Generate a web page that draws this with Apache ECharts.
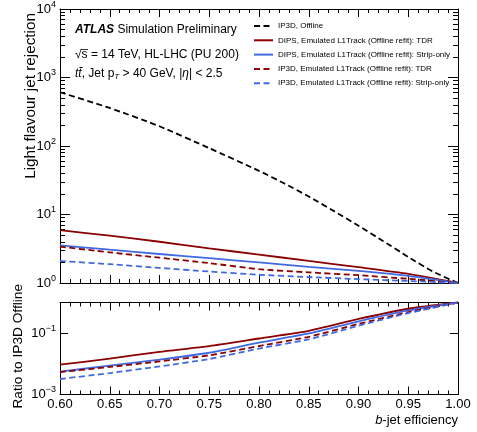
<!DOCTYPE html>
<html>
<head>
<meta charset="utf-8">
<script src="https://cdn.jsdelivr.net/npm/echarts@6/dist/echarts.min.js"></script>
<style>
html,body{margin:0;padding:0;background:#fff;}
#chart{width:477px;height:432px;}
</style>
</head>
<body>
<div id="chart"></div>
<script>
// ---- Data ----
var effOffline = [0.60, 0.65, 0.70, 0.75, 0.80, 0.825, 0.85, 0.875, 0.90, 0.925, 0.95, 0.975, 1.00];
var ip3dOffline = [609, 359, 194, 93, 43.4, 28.6, 18.3, 11.3, 6.85, 4.08, 2.4, 1.46, 1.0];

var eff = [0.60, 0.65, 0.70, 0.75, 0.80, 0.85, 0.90, 0.95, 1.00];
var dipsTdr   = [5.9, 4.9, 4.0, 3.2, 2.6, 2.1, 1.7, 1.36, 1.0];
var dipsStrip = [3.55, 3.06, 2.65, 2.3, 2.0, 1.72, 1.5, 1.27, 1.0];
var ip3dTdr   = [3.4, 2.8, 2.34, 1.95, 1.59, 1.43, 1.3, 1.15, 1.0];
var ip3dStrip = [2.1, 1.88, 1.66, 1.47, 1.32, 1.22, 1.14, 1.07, 1.0];

var ratioDipsTdr   = [0.0094, 0.0148, 0.0247, 0.038, 0.067, 0.119, 0.29, 0.625, 1.0];
var ratioDipsStrip = [0.0056, 0.0087, 0.0137, 0.023, 0.049, 0.098, 0.244, 0.55, 1.0];
var ratioIp3dTdr   = [0.0054, 0.0079, 0.012, 0.019, 0.038, 0.076, 0.2, 0.485, 1.0];
var ratioIp3dStrip = [0.0032, 0.005, 0.0082, 0.0144, 0.0316, 0.063, 0.175, 0.45, 1.0];

var names = [
  'IP3D, Offline',
  'DIPS, Emulated L1Track (Offline refit): TDR',
  'DIPS, Emulated L1Track (Offline refit): Strip-only',
  'IP3D, Emulated L1Track (Offline refit): TDR',
  'IP3D, Emulated L1Track (Offline refit): Strip-only'
];
var xTickLabels = ['0.60','0.65','0.70','0.75','0.80','0.85','0.90','0.95','1.00'];
var topMajorTicks = [1, 10, 100, 1000, 10000];
var ratioMajorTicks = [0.001, 0.1, 1];
var ratioLabelTicks = [0.001, 0.1];

// ---- styling ----
var FONT = 'Liberation Sans';
var RED = '#8b0000';
var BLUE = '#4169e1';

var topMinorTicks = [];
[1, 10, 100, 1000].forEach(function (d) {
  for (var k = 2; k <= 9; k++) topMinorTicks.push(d * k);
});

function pairs(xs, ys) { return xs.map(function (x, i) { return [x, ys[i]]; }); }

function expLabel(v) {
  var e = Math.round(Math.log10(v));
  var s = e < 0 ? '\u2212' + (-e) : '' + e;
  return '{b|10}{e|' + s + '}';
}
var labelRich = {
  b: { fontSize: 13, fontFamily: FONT, color: '#000' },
  e: { fontSize: 9, fontFamily: FONT, color: '#000', padding: [0, 0, 9, 0] }
};

var G0 = { left: 60, top: 7, width: 398, height: 276 };
var G1 = { left: 60, top: 302.5, width: 398, height: 92 };

function xAx(grid, pos, labels) {
  return {
    type: 'value', gridIndex: grid, position: pos, min: 0.6, max: 1.0, interval: 0.05,
    axisLine: { show: true, onZero: false, lineStyle: { color: '#000', width: 1 } },
    axisTick: { show: true, inside: true, length: 8, lineStyle: { color: '#000' } },
    minorTick: { show: true, splitNumber: 5, length: 4, lineStyle: { color: '#000' } },
    splitLine: { show: false }, minorSplitLine: { show: false },
    axisLabel: labels ? {
      show: true, margin: 3, fontSize: 13, fontFamily: FONT, color: '#000',
      formatter: function (v) { var i = Math.round((v - 0.6) / 0.05); return xTickLabels[i]; }
    } : { show: false }
  };
}

function yLog(grid, pos, min, max, ticks, len, labelVals, showLine) {
  return {
    type: 'log', gridIndex: grid, position: pos, min: min, max: max, logBase: 10,
    axisLine: { show: showLine, onZero: false, lineStyle: { color: '#000', width: 1 } },
    axisTick: { show: true, inside: true, length: len, customValues: ticks, lineStyle: { color: '#000' } },
    splitLine: { show: false },
    axisLabel: labelVals ? {
      show: true, margin: 4, customValues: labelVals, formatter: expLabel, rich: labelRich
    } : { show: false }
  };
}

function lineSeries(name, data, color, dashed, xi, yi, w) {
  return {
    name: name, type: 'line', xAxisIndex: xi, yAxisIndex: yi, data: data,
    symbol: 'none', smooth: 0.2, silent: true, animation: false,
    lineStyle: { color: color, width: w || 1.8, type: dashed ? [6, 3.5] : 'solid' },
    itemStyle: { color: color }
  };
}

var series = [
  lineSeries(names[0], pairs(effOffline, ip3dOffline), '#000', true, 0, 0, 1.8),
  lineSeries(names[1], pairs(eff, dipsTdr), RED, false, 0, 0),
  lineSeries(names[2], pairs(eff, dipsStrip), BLUE, false, 0, 0),
  lineSeries(names[3], pairs(eff, ip3dTdr), RED, true, 0, 0),
  lineSeries(names[4], pairs(eff, ip3dStrip), BLUE, true, 0, 0),
  lineSeries(names[1], pairs(eff, ratioDipsTdr), RED, false, 2, 4),
  lineSeries(names[2], pairs(eff, ratioDipsStrip), BLUE, false, 2, 4),
  lineSeries(names[3], pairs(eff, ratioIp3dTdr), RED, true, 2, 4),
  lineSeries(names[4], pairs(eff, ratioIp3dStrip), BLUE, true, 2, 4)
];

var option = {
  backgroundColor: '#fff',
  animation: false,
  grid: [
    { left: G0.left, top: G0.top, width: G0.width, height: G0.height },
    { left: G1.left, top: G1.top, width: G1.width, height: G1.height }
  ],
  xAxis: [xAx(0, 'bottom', false), xAx(0, 'top', false), xAx(1, 'bottom', true), xAx(1, 'top', false)],
  yAxis: [
    yLog(0, 'left', 1, 10000, topMajorTicks, 10, topMajorTicks, true),
    yLog(0, 'left', 1, 10000, topMinorTicks, 5, null, false),
    yLog(0, 'right', 1, 10000, topMajorTicks, 10, null, true),
    yLog(0, 'right', 1, 10000, topMinorTicks, 5, null, false),
    yLog(1, 'left', 0.001, 1, ratioMajorTicks, 8, ratioLabelTicks, true),
    yLog(1, 'right', 0.001, 1, ratioMajorTicks, 8, null, true)
  ],
  legend: {
    orient: 'vertical', left: 253, top: 22, padding: 0,
    itemWidth: 19, itemHeight: 10, itemGap: 6.3,
    selectedMode: false,
    itemStyle: { opacity: 0 },
    data: names,
    textStyle: { fontSize: 8, fontFamily: FONT, color: '#000' }
  },
  series: series,
  graphic: [
    {
      type: 'text', left: 75, top: 23.5,
      style: {
        text: '{a|ATLAS} {n|Simulation Preliminary}',
        rich: {
          a: { fontSize: 12, fontWeight: 'bold', fontStyle: 'italic', fontFamily: FONT, fill: '#000' },
          n: { fontSize: 12, fontFamily: FONT, fill: '#000' }
        }
      }
    },
    {
      type: 'text', left: 75, top: 49,
      style: {
        text: '\u221As\u0305 = 14 TeV, HL-LHC (PU 200)',
        font: '12px "Liberation Sans"', fill: '#000'
      }
    },
    {
      type: 'text', left: 75, top: 68,
      style: {
        text: '{i|tt\u0304}{n|, Jet p}{s|T}{n| > 40 GeV, |}{i|\u03B7}{n|| < 2.5}',
        rich: {
          i: { fontSize: 12, fontStyle: 'italic', fontFamily: FONT, fill: '#000' },
          n: { fontSize: 12, fontFamily: FONT, fill: '#000' },
          s: { fontSize: 8, fontStyle: 'italic', fontFamily: FONT, fill: '#000', padding: [5, 0, 0, 0] }
        }
      }
    },
    {
      type: 'text', x: 31, y: 13, rotation: Math.PI / 2,
      style: { text: 'Light flavour jet rejection', font: '15.3px "Liberation Sans"', fill: '#000', align: 'right', verticalAlign: 'middle' }
    },
    {
      type: 'text', x: 18, y: 284, rotation: Math.PI / 2,
      style: { text: 'Ratio to IP3D Offline', font: '13.7px "Liberation Sans"', fill: '#000', align: 'right', verticalAlign: 'middle' }
    },
    {
      type: 'text', x: 458, y: 420,
      style: {
        text: '{i|b}{n|-jet efficiency}',
        align: 'right', verticalAlign: 'middle',
        rich: {
          i: { fontSize: 13, fontStyle: 'italic', fontFamily: FONT, fill: '#000' },
          n: { fontSize: 13, fontFamily: FONT, fill: '#000' }
        }
      }
    }
  ]
};

var chart = echarts.init(document.getElementById('chart'), null, { renderer: 'canvas' });
chart.setOption(option);
</script>
</body>
</html>
